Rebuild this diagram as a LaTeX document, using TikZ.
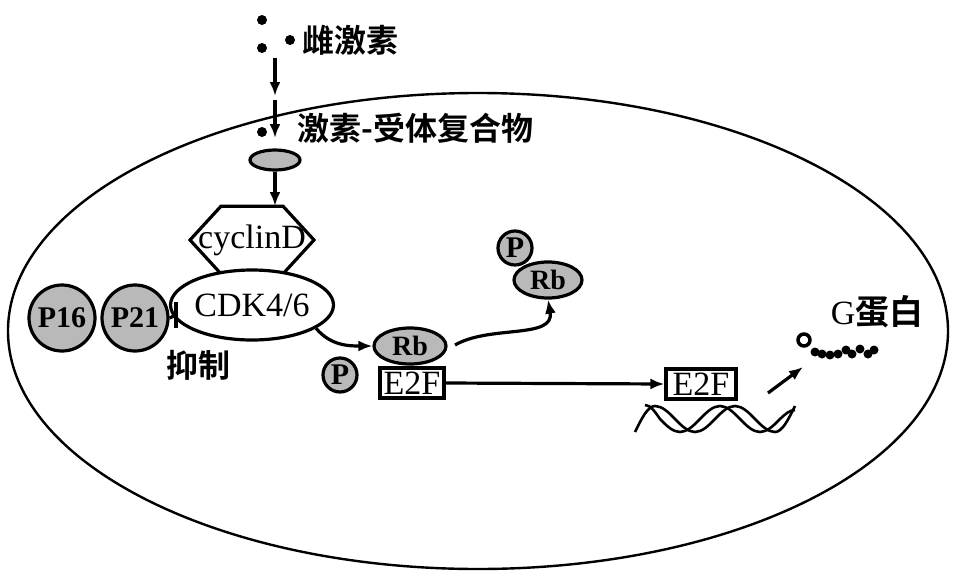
\documentclass[tikz,border=0pt]{standalone}
\usepackage{fontspec}
\setmainfont{Liberation Serif}
\newfontfamily\cjk{Noto Sans CJK SC Bold}
\usetikzlibrary{arrows.meta,shapes.geometric}
\begin{document}
\begin{tikzpicture}[x=1pt,y=-1pt,line width=3.2pt,
  arr/.style={-{Latex[length=14pt,width=11pt]}},
  gcirc/.style={circle,draw,fill=gray!55,minimum size=#1,inner sep=0pt,font=\bfseries\fontsize{30}{30}\selectfont},
  gell/.style={ellipse,draw,fill=gray!55,inner sep=0pt,font=\bfseries\fontsize{28}{28}\selectfont},
  lbl/.style={font=\fontsize{34}{34}\selectfont},
  zh/.style={font=\cjk\fontsize{32}{32}\selectfont},
  dot/.style={circle,fill=black,inner sep=0pt,minimum size=10pt}]
\useasboundingbox (0,0) rectangle (954,579);
\draw[line width=2.4pt] (478,331) ellipse [x radius=470, y radius=238];
\node[dot] (d1) at (262,20) {};
\node[dot] (d2) at (262,48) {};
\node[dot] (d3) at (290,40) {};
\node[dot] (d4) at (262,132) {};
\node[zh,anchor=west] (t1) at (298,40) {雌激素};
\node[zh,anchor=west] (t2) at (293,128) {激素-受体复合物};
\coordinate (a1) at (275,58); \coordinate (a2) at (275,96);
\coordinate (a3) at (275,100); \coordinate (a4) at (275,138);
\draw[arr] (a1) -- (a2);
\draw[arr] (a3) -- (a4);
\node[gell,minimum width=50pt,minimum height=20pt] (rc) at (275,160) {};
\node[regular polygon,regular polygon sides=6,draw,fill=white,minimum size=124pt,yscale=0.63,inner sep=0pt] (hex) at (252,240) {};
\node[lbl] at (252,240) {cyclinD};
\coordinate (ht) at (275,206);
\draw[arr] (rc) -- (ht);
\node[ellipse,draw,fill=white,minimum width=130pt,minimum height=70pt,lbl,inner sep=0pt] (cdk) at (252,305) {CDK4/6};
\node[gcirc=66pt] (p16) at (62,318) {P16};
\node[gcirc=66pt] (p21) at (135,318) {P21};
\draw (p21.east) -- (176,315); \draw (176,302) -- (176,328);
\node[zh] (yz) at (198,365) {抑制};
\node[gell,minimum width=72pt,minimum height=36pt] (rb1) at (410,346) {Rb};
\node[gcirc=34pt] (pp1) at (340,375) {P};
\node[draw,lbl,inner sep=2pt,minimum width=64pt,minimum height=30pt] (e1) at (412,383) {E2F};
\node[gcirc=34pt] (pp2) at (515,248) {P};
\node[gell,minimum width=68pt,minimum height=36pt] (rb2) at (548,280) {Rb};
\draw[arr] (cdk.-20) to[out=-50,in=180] (rb1.west);
\coordinate (c1) at (455,345);
\draw[arr] (c1) to[out=30,in=-80] (rb2.south);
\node[draw,lbl,inner sep=2pt,minimum width=70pt,minimum height=30pt] (e2) at (701,384) {E2F};
\draw[arr] (e1.east) -- (e2.west);
\draw[line width=2.6pt] (635,432) sin (655,406) cos (675,419) sin (695,432) cos (715,419) sin (735,406) cos (755,419) sin (775,432) cos (795,406);
\draw[line width=2.6pt] (645,405) cos (660,419) sin (680,432) cos (700,419) sin (720,406) cos (740,419) sin (760,432) cos (780,419) sin (795,410);
\coordinate (b1) at (768,393); \coordinate (b2) at (803,367);
\draw[arr] (b1) -- (b2);
\node[font=\fontsize{34}{34}\selectfont,anchor=west] (g) at (826,312) {G\cjk 蛋白};
\node[circle,draw,line width=3.5pt,minimum size=12pt,inner sep=0pt] (bl) at (804,340) {};
\foreach \x/\y in {815/352,822/354,830/355,838/354,846/350,852/354,860/349,868/354,874/350}
  \fill (\x,\y) circle (4.5pt);
\end{tikzpicture}
\end{document}
